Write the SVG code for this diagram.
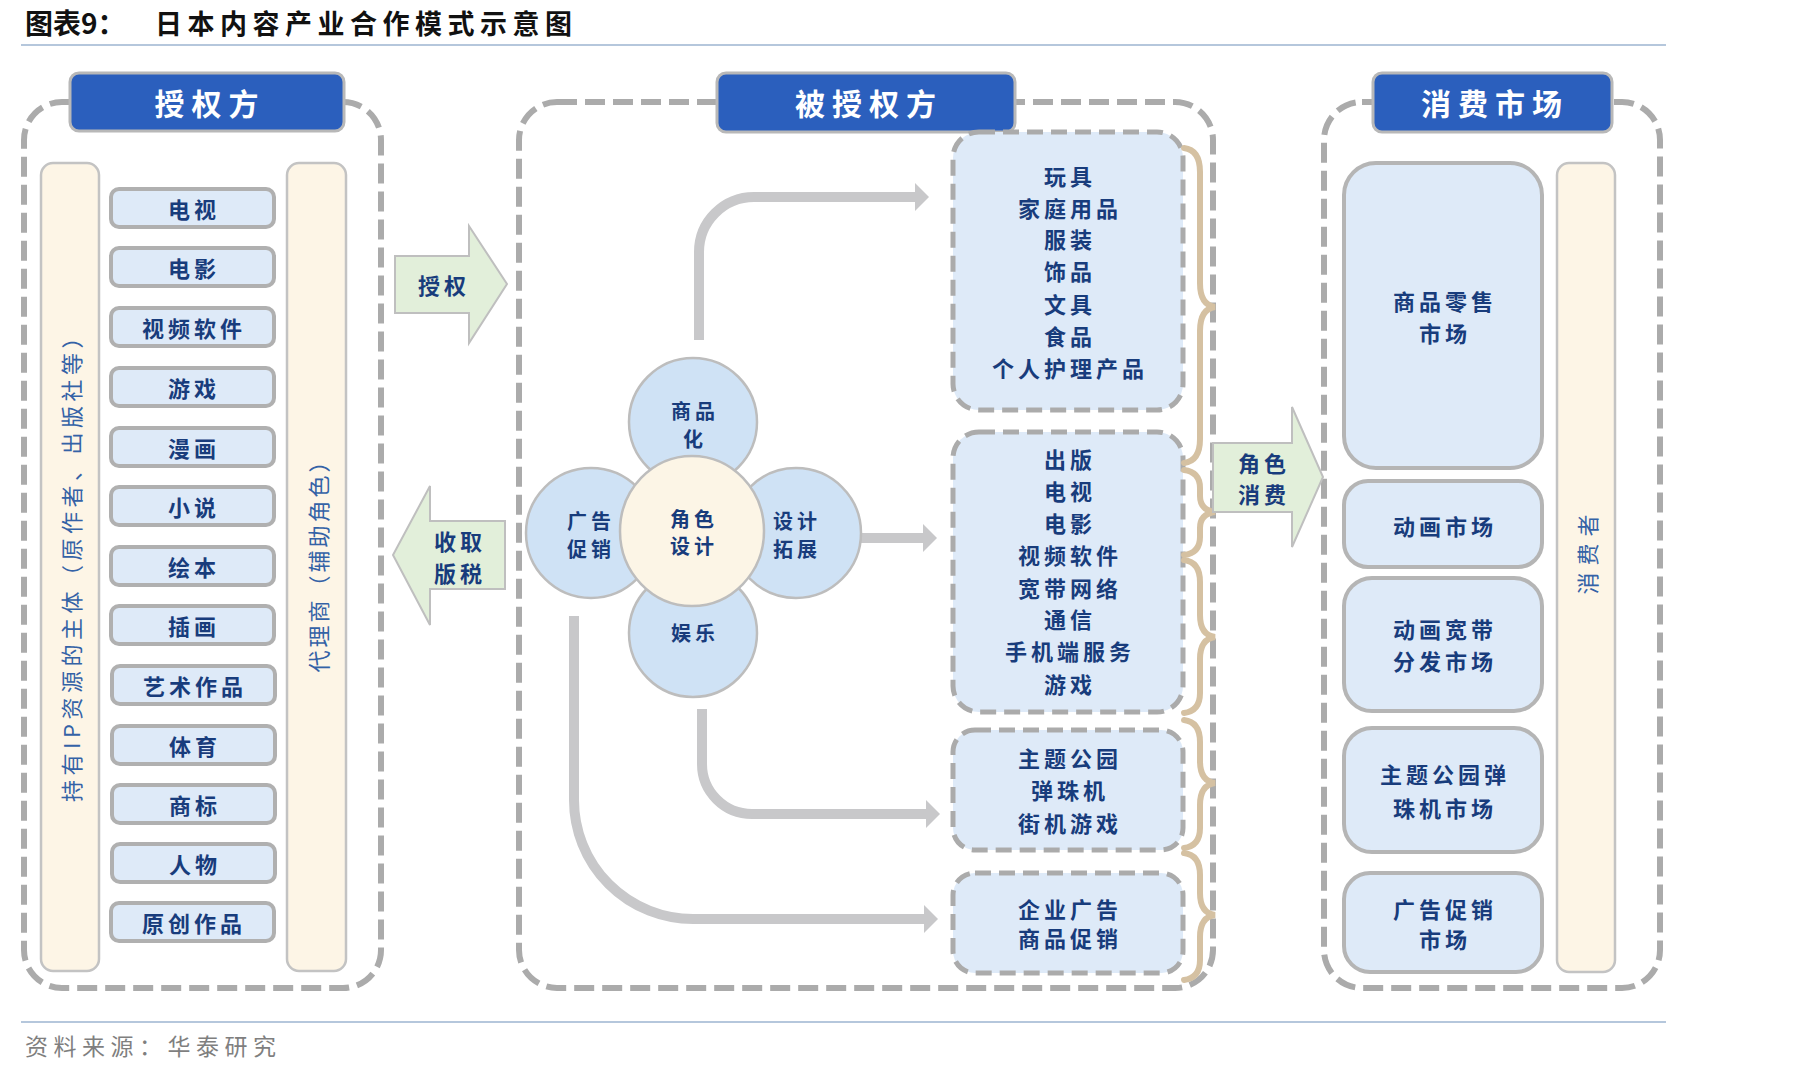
<svg xmlns="http://www.w3.org/2000/svg" width="1819" height="1076" viewBox="0 0 1819 1076">
<style>
text{font-family:"Noto Sans CJK SC","Liberation Sans",sans-serif;dominant-baseline:central;text-anchor:middle}
.t{font-weight:700;font-size:22px;fill:#183C7C;letter-spacing:4px}
.fl{font-weight:700;font-size:20px;fill:#183C7C;letter-spacing:4px}
.v{font-size:22px;fill:#3462A6;letter-spacing:4px}
.hd{font-weight:700;font-size:30px;fill:#fff;letter-spacing:7px}
.cont{fill:none;stroke:#ABABAB;stroke-width:6;stroke-dasharray:20 8}
.hbox{fill:#2B5FBD;stroke:#B8B8B8;stroke-width:3}
.item{fill:#DEEAF8;stroke:#B0B0B0;stroke-width:4}
.mbox{fill:#DEEAF8;stroke:#ABABAB;stroke-width:5;stroke-dasharray:16 8}
.rbox{fill:#DEEAF8;stroke:#B5B5B5;stroke-width:4}
.tan{fill:#FDF5E6;stroke:#C3C3C3;stroke-width:2.5}
.garrow{fill:#E2EFDA;stroke:#BFBFBF;stroke-width:2}
.petal{fill:#CFE2F5;stroke:#BDBDBD;stroke-width:2.5}
.core{fill:#FCF5E6;stroke:#BDBDBD;stroke-width:2.5}
.conn{fill:none;stroke:#C8C8CA;stroke-width:10;marker-end:url(#ah)}
.brace{fill:none;stroke:#D5C1A2;stroke-width:6;stroke-linecap:round}
</style>
<defs>
<marker id="ah" markerUnits="userSpaceOnUse" markerWidth="14" markerHeight="28" viewBox="0 0 14 28" refX="0" refY="14" orient="auto">
<path d="M0,0 L14,14 L0,28 Z" fill="#C8C8CA"/>
</marker>
</defs>
<rect width="1819" height="1076" fill="#fff"/>

<g id="title">
<text x="25" y="22" style="text-anchor:start;font-size:28px;font-weight:700;fill:#111">图表9：</text>
<text x="155" y="22" style="text-anchor:start;font-size:27px;font-weight:700;fill:#111;letter-spacing:5.5px">日本内容产业合作模式示意图</text>
<line x1="21" y1="45" x2="1666" y2="45" stroke="#9DB4D0" stroke-width="1.5"/>
</g>

<g id="containers">
<rect class="cont" x="24" y="102" width="357" height="886" rx="38"/>
<rect class="cont" x="519" y="102" width="694" height="886" rx="38"/>
<rect class="cont" x="1324" y="102" width="336" height="886" rx="38"/>
</g>

<g id="connectors">
<path class="conn" d="M699,340 L699,252 A55,55 0 0 1 754,197 L915,197"/>
<path class="conn" d="M855,538 L923,538"/>
<path class="conn" d="M702,709 L702,764 A50,50 0 0 0 752,814 L926,814"/>
<path class="conn" d="M574,616 L574,800 A119,119 0 0 0 693,919 L924,919"/>
</g>

<g id="hdr-licensor">
<rect class="hbox" x="70" y="73" width="274" height="58" rx="9"/>
<text class="hd" x="210" y="102">授权方</text>
</g>
<g id="hdr-licensee">
<rect class="hbox" x="717" y="73" width="298" height="59" rx="9"/>
<text class="hd" x="869" y="102">被授权方</text>
</g>
<g id="hdr-market">
<rect class="hbox" x="1373" y="73" width="239" height="59" rx="9"/>
<text class="hd" x="1495" y="102">消费市场</text>
</g>

<g id="ip-holder">
<rect class="tan" x="41" y="163" width="58" height="808" rx="12"/>
<text class="v" transform="translate(70,562) rotate(-90)" style="letter-spacing:4.5px">持有IP资源的主体（原作者、出版社等）</text>
</g>
<g id="agent">
<rect class="tan" x="287" y="163" width="59" height="808" rx="12"/>
<text class="v" transform="translate(317,560) rotate(-90)" style="letter-spacing:3px">代理商（辅助角色）</text>
</g>

<g id="ip-items">
<g id="ip-tv"><rect class="item" x="111" y="189" width="163" height="38" rx="8"/><text class="t" x="194" y="208">电视</text></g>
<g id="ip-film"><rect class="item" x="111" y="248" width="163" height="38" rx="8"/><text class="t" x="194" y="267">电影</text></g>
<g id="ip-video"><rect class="item" x="111" y="308" width="163" height="38" rx="8"/><text class="t" x="194" y="327">视频软件</text></g>
<g id="ip-game"><rect class="item" x="111" y="368" width="163" height="38" rx="8"/><text class="t" x="194" y="387">游戏</text></g>
<g id="ip-manga"><rect class="item" x="111" y="428" width="163" height="38" rx="8"/><text class="t" x="194" y="447">漫画</text></g>
<g id="ip-novel"><rect class="item" x="111" y="487" width="163" height="38" rx="8"/><text class="t" x="194" y="506">小说</text></g>
<g id="ip-picbook"><rect class="item" x="111" y="547" width="163" height="38" rx="8"/><text class="t" x="194" y="566">绘本</text></g>
<g id="ip-illus"><rect class="item" x="111" y="606" width="163" height="38" rx="8"/><text class="t" x="194" y="625">插画</text></g>
<g id="ip-art"><rect class="item" x="112" y="666" width="163" height="38" rx="8"/><text class="t" x="195" y="685">艺术作品</text></g>
<g id="ip-sport"><rect class="item" x="112" y="726" width="163" height="38" rx="8"/><text class="t" x="195" y="745">体育</text></g>
<g id="ip-trademark"><rect class="item" x="112" y="785" width="163" height="38" rx="8"/><text class="t" x="195" y="804">商标</text></g>
<g id="ip-person"><rect class="item" x="112" y="844" width="163" height="38" rx="8"/><text class="t" x="195" y="863">人物</text></g>
<g id="ip-original"><rect class="item" x="111" y="903" width="163" height="38" rx="8"/><text class="t" x="194" y="922">原创作品</text></g>
</g>

<g id="arrow-license">
<polygon class="garrow" points="395,256 469,256 469,226 507,284 469,343 469,313 395,313"/>
<text class="t" x="444" y="284">授权</text>
</g>
<g id="arrow-royalty">
<polygon class="garrow" points="505,521 430,521 430,486 393,555 430,625 430,589 505,589"/>
<text class="t" x="460" y="540">收取</text>
<text class="t" x="460" y="572">版税</text>
</g>

<g id="flower">
<g id="petal-merch"><circle class="petal" cx="693" cy="422" r="64"/><text class="fl" x="695" y="410">商品</text><text class="fl" x="695" y="438">化</text></g>
<g id="petal-ad"><circle class="petal" cx="591" cy="533" r="65"/><text class="fl" x="591" y="520">广告</text><text class="fl" x="591" y="548">促销</text></g>
<g id="petal-design"><circle class="petal" cx="796" cy="533" r="65"/><text class="fl" x="797" y="520">设计</text><text class="fl" x="797" y="548">拓展</text></g>
<g id="petal-ent"><circle class="petal" cx="693" cy="633" r="64"/><text class="fl" x="695" y="632">娱乐</text></g>
<g id="core"><ellipse class="core" cx="692" cy="531" rx="72" ry="75"/><text class="fl" x="694" y="518">角色</text><text class="fl" x="694" y="545">设计</text></g>
</g>

<g id="box-goods">
<rect class="mbox" x="953" y="132" width="230" height="278" rx="26"/>
<text class="t" x="1070" y="175">玩具</text>
<text class="t" x="1070" y="207">家庭用品</text>
<text class="t" x="1070" y="238">服装</text>
<text class="t" x="1070" y="270">饰品</text>
<text class="t" x="1070" y="303">文具</text>
<text class="t" x="1070" y="335">食品</text>
<text class="t" x="1070" y="367">个人护理产品</text>
</g>
<g id="box-media">
<rect class="mbox" x="953" y="432" width="230" height="280" rx="26"/>
<text class="t" x="1070" y="458">出版</text>
<text class="t" x="1070" y="490">电视</text>
<text class="t" x="1070" y="522">电影</text>
<text class="t" x="1070" y="554">视频软件</text>
<text class="t" x="1070" y="587">宽带网络</text>
<text class="t" x="1070" y="618">通信</text>
<text class="t" x="1070" y="650">手机端服务</text>
<text class="t" x="1070" y="683">游戏</text>
</g>
<g id="box-park">
<rect class="mbox" x="953" y="730" width="230" height="120" rx="22"/>
<text class="t" x="1070" y="757">主题公园</text>
<text class="t" x="1070" y="789">弹珠机</text>
<text class="t" x="1070" y="822">街机游戏</text>
</g>
<g id="box-adv">
<rect class="mbox" x="953" y="873" width="230" height="100" rx="22"/>
<text class="t" x="1070" y="908">企业广告</text>
<text class="t" x="1070" y="937">商品促销</text>
</g>

<g id="braces">
<path class="brace" d="M1184,148 Q1200,150 1200,172 L1200,283 Q1200,305 1215,307 Q1200,309 1200,331 L1200,439 Q1200,461 1184,463"/>
<path class="brace" d="M1184,470 Q1200,472 1200,488 L1200,496 Q1200,510 1215,512 Q1200,514 1200,528 L1200,537 Q1200,553 1184,555"/>
<path class="brace" d="M1184,560 Q1200,562 1200,582 L1200,615 Q1200,635 1215,637 Q1200,639 1200,659 L1200,693 Q1200,711 1184,713"/>
<path class="brace" d="M1184,720 Q1200,722 1200,742 L1200,761 Q1200,781 1215,783 Q1200,785 1200,805 L1200,828 Q1200,846 1184,848"/>
<path class="brace" d="M1184,853 Q1200,855 1200,875 L1200,893 Q1200,913 1215,915 Q1200,917 1200,937 L1200,960 Q1200,978 1184,980"/>
</g>

<g id="arrow-consume">
<polygon class="garrow" points="1213,443 1292,443 1292,407 1323,477 1292,547 1292,512 1213,512"/>
<text class="t" x="1264" y="462">角色</text>
<text class="t" x="1264" y="493">消费</text>
</g>

<g id="mk-retail"><rect class="rbox" x="1344" y="163" width="198" height="305" rx="32"/><text class="t" x="1445" y="300">商品零售</text><text class="t" x="1445" y="332">市场</text></g>
<g id="mk-anime"><rect class="rbox" x="1344" y="481" width="198" height="86" rx="24"/><text class="t" x="1445" y="525">动画市场</text></g>
<g id="mk-broadband"><rect class="rbox" x="1344" y="578" width="198" height="133" rx="28"/><text class="t" x="1445" y="628">动画宽带</text><text class="t" x="1445" y="660">分发市场</text></g>
<g id="mk-park"><rect class="rbox" x="1344" y="728" width="198" height="124" rx="28"/><text class="t" x="1445" y="773">主题公园弹</text><text class="t" x="1445" y="807">珠机市场</text></g>
<g id="mk-ad"><rect class="rbox" x="1344" y="873" width="198" height="99" rx="26"/><text class="t" x="1445" y="908">广告促销</text><text class="t" x="1445" y="938">市场</text></g>

<g id="consumer">
<rect class="tan" x="1557" y="163" width="58" height="809" rx="12"/>
<text class="v" transform="translate(1586,551) rotate(-90)" style="letter-spacing:7px">消费者</text>
</g>

<g id="footer">
<line x1="21" y1="1022" x2="1666" y2="1022" stroke="#9DB4D0" stroke-width="1.5"/>
<text x="25" y="1045" style="text-anchor:start;font-size:23px;fill:#7F7F7F;letter-spacing:5.5px">资料来源：华泰研究</text>
</g>
</svg>
